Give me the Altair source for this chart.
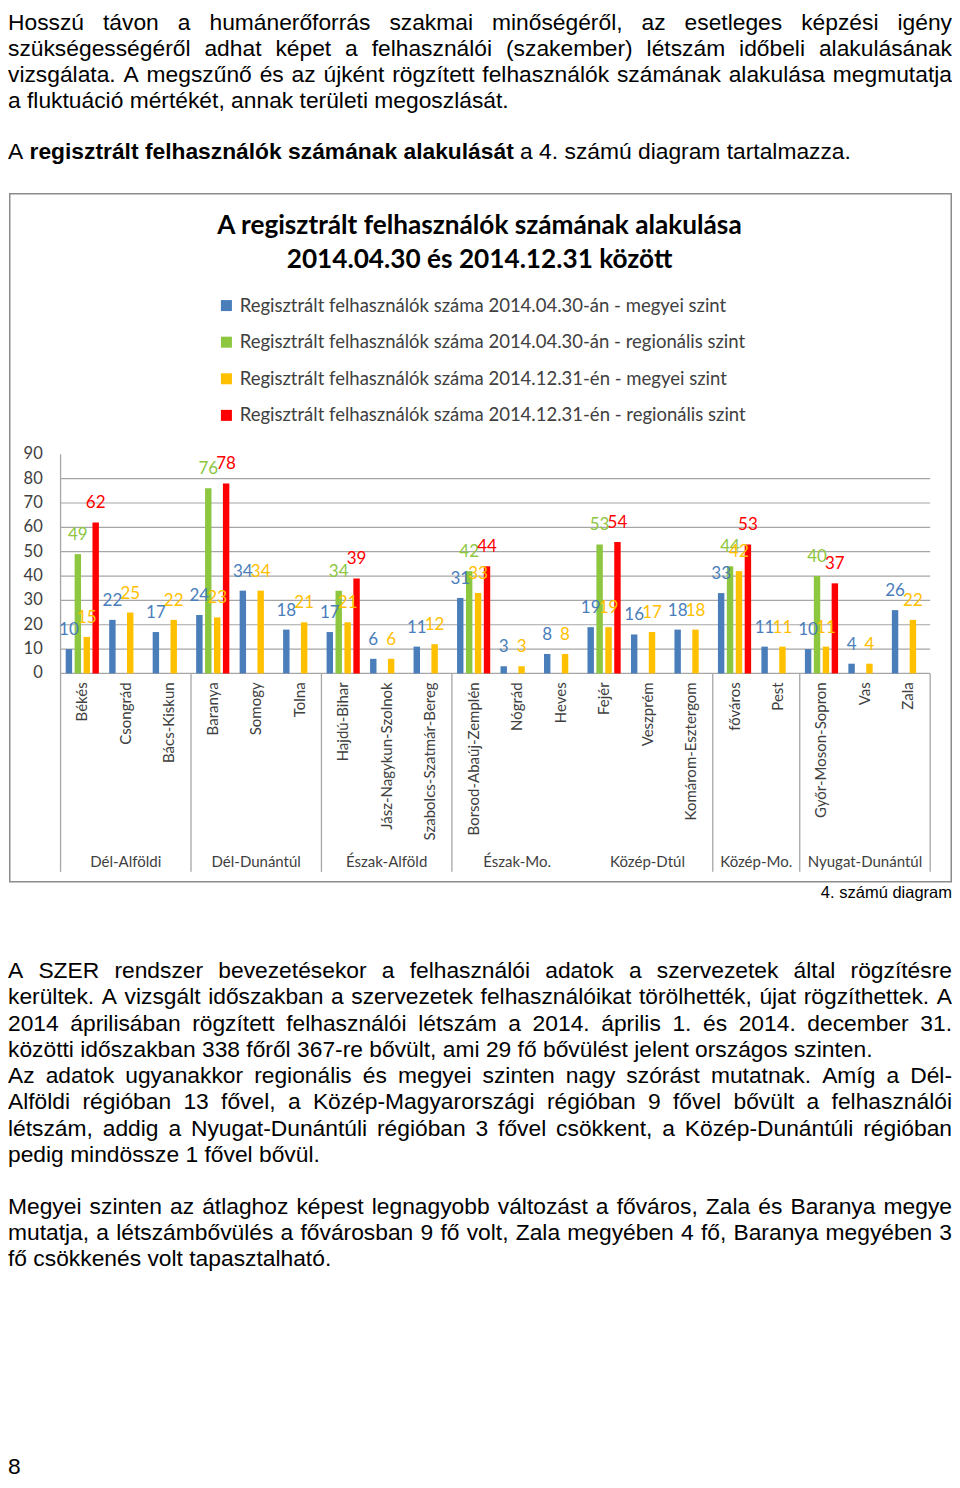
import altair as alt
import pandas as pd

# ---------------- chart data ----------------
regions = ["Dél-Alföldi", "Dél-Dunántúl", "Észak-Alföld", "Észak-Mo.",
           "Közép-Dtúl", "Közép-Mo.", "Nyugat-Dunántúl"]
region_county_counts = [3, 3, 3, 3, 3, 2, 3]
region_separator_after = [True, True, True, False, True, True, True]
counties = ["Békés", "Csongrád", "Bács-Kiskun",
            "Baranya", "Somogy", "Tolna",
            "Hajdú-Bihar", "Jász-Nagykun-Szolnok", "Szabolcs-Szatmár-Bereg",
            "Borsod-Abaúj-Zemplén", "Nógrád", "Heves",
            "Fejér", "Veszprém", "Komárom-Esztergom",
            "főváros", "Pest",
            "Győr-Moson-Sopron", "Vas", "Zala"]
county_2014_04_30 = [10, 22, 17, 24, 34, 18, 17, 6, 11, 31, 3, 8, 19, 16, 18, 33, 11, 10, 4, 26]
county_2014_12_31 = [15, 25, 22, 23, 34, 21, 21, 6, 12, 33, 3, 8, 19, 17, 18, 42, 11, 11, 4, 22]
region_2014_04_30 = [49, 76, 34, 42, 53, 44, 40]
region_2014_12_31 = [62, 78, 39, 44, 54, 53, 37]
series_names = [
    "Regisztrált felhasználók száma 2014.04.30-án - megyei szint",
    "Regisztrált felhasználók száma 2014.04.30-án - regionális szint",
    "Regisztrált felhasználók száma 2014.12.31-én - megyei szint",
    "Regisztrált felhasználók száma 2014.12.31-én - regionális szint",
]
series_colors = ["#4A7EBB", "#8DC63F", "#FFC000", "#FF0000"]
y_tick_values = [0, 10, 20, 30, 40, 50, 60, 70, 80, 90]
grid_values = [10, 20, 30, 40, 50, 60, 70, 80]
chart_title = ["A regisztrált felhasználók számának alakulása",
               "2014.04.30 és 2014.12.31 között"]

# ---------------- page text ----------------
para1 = [
    ("Hosszú távon a humánerőforrás szakmai minőségéről, az esetleges képzési igény", True),
    ("szükségességéről adhat képet a felhasználói (szakember) létszám időbeli alakulásának", True),
    ("vizsgálata. A megszűnő és az újként rögzített felhasználók számának alakulása megmutatja", True),
    ("a fluktuáció mértékét, annak területi megoszlását.", False),
]
bold_line = [("A", "reg"), ("regisztrált felhasználók számának alakulását", "bold"),
             ("a 4. számú diagram tartalmazza.", "reg")]
para2 = [
    ("A SZER rendszer bevezetésekor a felhasználói adatok a szervezetek által rögzítésre", True),
    ("kerültek. A vizsgált időszakban a szervezetek felhasználóikat törölhették, újat rögzíthettek. A", True),
    ("2014 áprilisában rögzített felhasználói létszám a 2014. április 1. és 2014. december 31.", True),
    ("közötti időszakban 338 főről 367-re bővült, ami 29 fő bővülést jelent országos szinten.", False),
    ("Az adatok ugyanakkor regionális és megyei szinten nagy szórást mutatnak. Amíg a Dél-", True),
    ("Alföldi régióban 13 fővel, a Közép-Magyarországi régióban 9 fővel bővült a felhasználói", True),
    ("létszám, addig a Nyugat-Dunántúli régióban 3 fővel csökkent, a Közép-Dunántúli régióban", True),
    ("pedig mindössze 1 fővel bővül.", False),
]
para3 = [
    ("Megyei szinten az átlaghoz képest legnagyobb változást a főváros, Zala és Baranya megye", True),
    ("mutatja, a létszámbővülés a fővárosban 9 fő volt, Zala megyében 4 fő, Baranya megyében 3", True),
    ("fő csökkenés volt tapasztalható.", False),
]
caption = "4. számú diagram"
page_number = "8"

# ---------------- page geometry ----------------
W, H = 944, 1472
SX = 944 / 952.0
SY = 1465 / 1484.0


def px(p):
    return (p - 4) * SX


def py(p):
    return 5 + (p - 2) * SY


# Arial / Liberation Sans advance widths (1/1000 em)
REG = {' ': 278, ',': 278, '.': 278, '-': 333, '(': 333, ')': 333, ':': 278}
for d in "0123456789":
    REG[d] = 556
REG.update(dict(A=667, B=667, C=722, D=722, E=667, F=611, G=778, H=722, I=278, J=500, K=667,
                L=556, M=833, N=722, O=778, P=667, Q=778, R=722, S=667, T=611, U=722, V=667,
                W=944, X=667, Y=667, Z=611))
REG.update(dict(a=556, b=556, c=500, d=556, e=556, f=278, g=556, h=556, i=222, j=222, k=500,
                l=222, m=833, n=556, o=556, p=556, q=556, r=333, s=500, t=278, u=556, v=500,
                w=722, x=500, y=500, z=500))
for c in "áéóöőúüű":
    REG[c] = 556
REG["í"] = 278
BOLD = dict(REG)
BOLD.update(dict(a=556, b=611, c=556, d=611, e=556, f=333, g=611, h=611, i=278, j=278, k=556,
                 l=278, m=889, n=611, o=611, p=611, q=611, r=389, s=556, t=333, u=611, v=556,
                 w=778, x=556, y=556, z=500))
for c in "óöőúüű":
    BOLD[c] = 611
BOLD["á"] = 556
BOLD["é"] = 556
BOLD["í"] = 278

BODY = 23 * SX
TABLES = {"reg": (REG, BODY), "bold": (BOLD, BODY)}
LEFT, RIGHT = 0.0, float(W)


def word_w(word, style):
    table, size = TABLES[style]
    return sum(table.get(c, 556) for c in word) * size / 1000.0


def place(tokens, base, justify):
    widths = [word_w(w, s) for w, s in tokens]
    gap = 0
    if justify and len(tokens) > 1:
        gap = (RIGHT - LEFT - sum(widths)) / (len(tokens) - 1)
    rows, x = [], LEFT
    for (w, s), wd in zip(tokens, widths):
        rows.append(dict(x=x, y=base, text=w, style=s))
        x += wd + (gap if justify else word_w(" ", s))
    return rows


text_rows = []
p1_base = [19, 45.3, 71.6, 97.9]
for (line, just), b in zip(para1, p1_base):
    text_rows += place([(w, "reg") for w in line.split()], py(b), just)
tokens = []
for seg, st in bold_line:
    tokens += [(w, st) for w in seg.split()]
text_rows += place(tokens, py(150), False)
p2_base = [979.5 + 26.6 * i for i in range(8)]
for (line, just), b in zip(para2, p2_base):
    text_rows += place([(w, "reg") for w in line.split()], py(b), just)
p3_base = [1219 + 26.3 * i for i in range(3)]
for (line, just), b in zip(para3, p3_base):
    text_rows += place([(w, "reg") for w in line.split()], py(b), just)
text_df = pd.DataFrame(text_rows)


def text_layer(style, font, size, weight="normal"):
    return alt.Chart(text_df[text_df["style"] == style]).mark_text(
        font=font, fontSize=size, fontWeight=weight, align="left", baseline="alphabetic",
        color="#000000"
    ).encode(
        x=alt.X("x:Q", scale=None, axis=None),
        y=alt.Y("y:Q", scale=None, axis=None),
        text=alt.Text("text:N"),
    )


body_reg = text_layer("reg", "Liberation Sans", BODY)
body_bold = text_layer("bold", "Liberation Sans", BODY, "bold")

misc_df = pd.DataFrame({"text": [caption], "x": [float(W)], "y": [py(898)]})
caption_layer = alt.Chart(misc_df).mark_text(
    font="Liberation Sans", fontSize=16.5, align="right", baseline="alphabetic", color="#000000"
).encode(x=alt.X("x:Q", scale=None), y=alt.Y("y:Q", scale=None), text="text:N")

pn_df = pd.DataFrame({"text": [page_number], "x": [0.0], "y": [float(H - 6)]})
pn_layer = alt.Chart(pn_df).mark_text(
    font="Liberation Sans", fontSize=BODY, align="left", baseline="alphabetic", color="#000000"
).encode(x=alt.X("x:Q", scale=None), y=alt.Y("y:Q", scale=None), text="text:N")

# ---------------- chart frame & title ----------------
frame = alt.Chart(pd.DataFrame({"a": [0]})).mark_rect(
    fill=None, stroke="#8C8C8C", strokeWidth=1.5
).encode(x=alt.value(px(5) + 0.75), x2=alt.value(W - 0.75),
         y=alt.value(py(185)), y2=alt.value(py(882)))

title_df = pd.DataFrame({"text": chart_title, "x": [px(479.5)] * 2, "y": [py(218), py(252)]})
title_layer = alt.Chart(title_df).mark_text(
    font="Lato", fontSize=26.2, fontWeight="bold", align="center", baseline="middle", color="#000000"
).encode(x=alt.X("x:Q", scale=None), y=alt.Y("y:Q", scale=None), text="text:N")

# ---------------- bar data ----------------
rows = []
start = 0
for r, n in enumerate(region_county_counts):
    for k in range(n):
        i = start + k
        rows.append(dict(county=counties[i], series=series_names[0], value=county_2014_04_30[i]))
        if k == 0:
            rows.append(dict(county=counties[i], series=series_names[1], value=region_2014_04_30[r]))
        rows.append(dict(county=counties[i], series=series_names[2], value=county_2014_12_31[i]))
        if k == 0:
            rows.append(dict(county=counties[i], series=series_names[3], value=region_2014_12_31[r]))
    start += n
bar_df = pd.DataFrame(rows)

reg_rows, sep_rows = [], []
start = 0
for r, n in enumerate(region_county_counts):
    reg_rows.append(dict(region=regions[r], center=start + n / 2.0))
    start += n
    if region_separator_after[r]:
        sep_rows.append(dict(pos=start))
region_df = pd.DataFrame(reg_rows)
sep_df = pd.DataFrame(sep_rows)

x_county = alt.Scale(domain=counties, range=[px(57), px(934)], paddingInner=0, paddingOuter=0)
x_slot = alt.Scale(domain=series_names, paddingInner=0.28, paddingOuter=0.577)
x_pos = alt.Scale(domain=[0, len(counties)], range=[px(57), px(934)], nice=False, zero=False)
y_val = alt.Scale(domain=[0, 90], range=[py(671), py(449)], nice=False)
color_scale = alt.Scale(domain=series_names, range=series_colors)

grid_df = pd.DataFrame({"value": grid_values, "x0": 0, "x1": len(counties)})
grid = alt.Chart(grid_df).mark_rule(color="#A6A6A6", strokeWidth=1.2).encode(
    y=alt.Y("value:Q", scale=y_val, axis=None),
    x=alt.X("x0:Q", scale=x_pos, axis=None), x2="x1:Q")

base_df = pd.DataFrame({"value": [0], "x0": [0], "x1": [len(counties)]})
baseline = alt.Chart(base_df).mark_rule(color="#A6A6A6", strokeWidth=1.3).encode(
    y=alt.Y("value:Q", scale=y_val, axis=None),
    x=alt.X("x0:Q", scale=x_pos, axis=None), x2="x1:Q")

axis_df = pd.DataFrame({"pos": [0], "v0": [0], "v1": [90]})
y_axis_line = alt.Chart(axis_df).mark_rule(color="#A6A6A6", strokeWidth=1.3).encode(
    x=alt.X("pos:Q", scale=x_pos, axis=None),
    y=alt.Y("v0:Q", scale=y_val, axis=None), y2="v1:Q")

sep_all = pd.DataFrame({"pos": [0] + list(sep_df["pos"])})
separators = alt.Chart(sep_all).mark_rule(color="#A6A6A6", strokeWidth=1.3).encode(
    x=alt.X("pos:Q", scale=x_pos, axis=None),
    y=alt.value(py(671)), y2=alt.value(py(872)))

ytick_df = pd.DataFrame({"value": y_tick_values})
ytick_labels = alt.Chart(ytick_df).mark_text(
    font="Lato", fontSize=16.5, align="right", baseline="middle", color="#404040"
).encode(x=alt.value(px(39)), y=alt.Y("value:Q", scale=y_val, axis=None), text="value:Q")

bars = alt.Chart(bar_df).mark_bar().encode(
    x=alt.X("county:N", scale=x_county, axis=None),
    xOffset=alt.XOffset("series:N", scale=x_slot),
    y=alt.Y("value:Q", scale=y_val, axis=None),
    color=alt.Color("series:N", scale=color_scale, legend=alt.Legend(
        title=None, orient="none", legendX=px(222) - 7, legendY=py(289), direction="vertical",
        symbolType="square", symbolSize=121, symbolStrokeWidth=0, labelFont="Lato",
        labelFontSize=18.5, labelColor="#404040", labelLimit=0, rowPadding=17.6,
        labelOffset=4, padding=0)),
)

value_labels = alt.Chart(bar_df).mark_text(
    font="Lato", fontSize=17, baseline="middle", dy=-19
).encode(
    x=alt.X("county:N", scale=x_county, axis=None),
    xOffset=alt.XOffset("series:N", scale=x_slot),
    y=alt.Y("value:Q", scale=y_val, axis=None),
    color=alt.Color("series:N", scale=color_scale, legend=None),
    text="value:Q",
)

county_df = pd.DataFrame({"county": counties})
county_labels = alt.Chart(county_df).mark_text(
    font="Lato", fontSize=15, angle=270, align="right", baseline="middle", color="#404040"
).encode(x=alt.X("county:N", scale=x_county, axis=None), y=alt.value(py(680)), text="county:N")

region_labels = alt.Chart(region_df).mark_text(
    font="Lato", fontSize=15, align="center", baseline="middle", color="#404040"
).encode(x=alt.X("center:Q", scale=x_pos, axis=None), y=alt.value(py(862)), text="region:N")

chart = alt.layer(
    frame, title_layer, grid, baseline, y_axis_line, separators, ytick_labels,
    bars, value_labels, county_labels, region_labels,
    body_reg, body_bold, caption_layer, pn_layer,
).resolve_scale(
    x="independent", y="independent"
).properties(
    width=W, height=H, padding=0, background="white",
    autosize=alt.AutoSizeParams(type="none"),
).configure_view(stroke=None)

chart.save("out.html", embed_options={"renderer": "svg", "actions": False})
